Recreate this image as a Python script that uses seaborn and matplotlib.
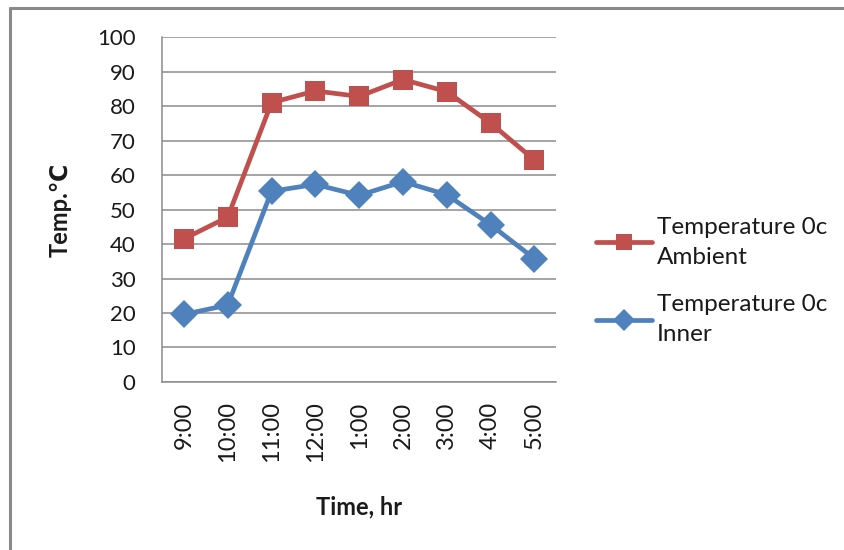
import matplotlib
matplotlib.use("Agg")
import matplotlib.pyplot as plt
from matplotlib.lines import Line2D
import seaborn as sns
import pandas as pd

times = ["9:00", "10:00", "11:00", "12:00", "1:00", "2:00", "3:00", "4:00", "5:00"]
ambient = [41.5, 47.8, 81.0, 84.4, 82.8, 87.7, 84.2, 75.1, 64.4]
inner = [19.6, 22.3, 55.3, 57.3, 54.1, 58.1, 54.3, 45.6, 35.8]
series_names = ["Temperature 0c\nAmbient", "Temperature 0c\nInner"]
y_ticks = list(range(0, 101, 10))

df = pd.DataFrame({
    "time": times * 2,
    "temp": ambient + inner,
    "series": [series_names[0]] * len(times) + [series_names[1]] * len(times),
})

sns.set_theme(style="white")
plt.rcParams["font.family"] = ["Lato", "DejaVu Sans"]

red = "#C0504D"
blue = "#4F81BD"
grid_col = "#8C8C8C"
text_col = "#1a1a1a"

fig = plt.figure(figsize=(8.44, 5.5), dpi=100)
ax = fig.add_axes([0.192, 0.3055, 0.467, 0.627])

sns.lineplot(
    data=df, x="time", y="temp", hue="series", style="series",
    palette=[red, blue], markers=["s", "D"], dashes=False,
    linewidth=3.4, markersize=14, markeredgewidth=0,
    sort=False, ax=ax, legend=False,
)

ax.set_xlim(-0.5, len(times) - 0.5)
ax.set_ylim(0, 100)
ax.set_yticks(y_ticks)
ax.yaxis.grid(True, color=grid_col, linewidth=1.1)
ax.xaxis.grid(False)
ax.set_axisbelow(True)

for side in ["top", "right"]:
    ax.spines[side].set_visible(False)
for side in ["left", "bottom"]:
    ax.spines[side].set_color(grid_col)
    ax.spines[side].set_linewidth(1.1)

# category labels sit between boundary ticks
ax.set_xticks(range(len(times)))
ax.set_xticklabels(times, rotation=90, va="top", ha="center", fontsize=17, color=text_col)
ax.set_xticks([i - 0.5 for i in range(len(times) + 1)], minor=True)
ax.tick_params(axis="x", which="major", length=0, pad=14)
ax.tick_params(axis="x", which="minor", length=7, width=1.1, color=grid_col, direction="out")
ax.tick_params(axis="y", length=9, width=1.1, color=grid_col, direction="out", labelsize=16,
               labelcolor=text_col, pad=10)

ax.set_xlabel("Time, hr", fontsize=17, fontweight="bold", color=text_col, labelpad=24)
ax.set_ylabel("Temp.℃", fontsize=17, fontweight="bold", color=text_col, labelpad=18)

handles = [
    Line2D([], [], color=red, marker="s", linewidth=3.4, markersize=12, markeredgewidth=0),
    Line2D([], [], color=blue, marker="D", linewidth=3.4, markersize=11, markeredgewidth=0),
]
leg = fig.legend(handles, series_names, loc="upper left", bbox_to_anchor=(0.695, 0.623),
                 frameon=False, fontsize=17.5, handlelength=2.3, handletextpad=0.2,
                 labelspacing=1.1, labelcolor=text_col, borderaxespad=0)
for t in leg.get_texts():
    t.set_linespacing(1.5)

# outer frame of the chart
fig.add_artist(Line2D([10 / 844, 1.0], [1 - 7.5 / 550] * 2, transform=fig.transFigure,
                      color="#8A8A8A", linewidth=2.2))
fig.add_artist(Line2D([10 / 844] * 2, [0.0, 1 - 7.5 / 550], transform=fig.transFigure,
                      color="#8A8A8A", linewidth=2.2))

fig.savefig("out.png", dpi=100, facecolor="white")
